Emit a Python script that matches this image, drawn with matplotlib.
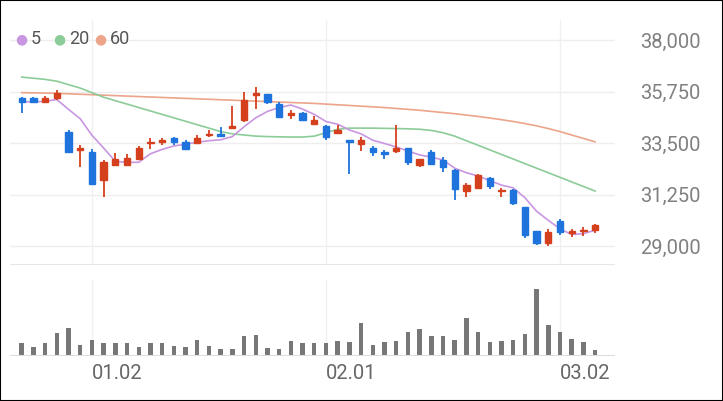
import matplotlib
matplotlib.use("Agg")
import matplotlib.pyplot as plt
from matplotlib.patches import Rectangle
import numpy as np

opens  = [35450,35450,35300,35450,34000,33200,33100,31900,32550,32550,32800,33500,33550,33700,33550,33500,33850,33900,34150,34500,
          35600,35650,35200,34750,34800,34350,34250,33950,33650,33450,33300,33100,33150,33300,32550,33100,32750,32300,31400,31550,
          31950,31400,31450,30700,29650,29150,30100,29550,29650,29700]
highs  = [35500,35500,35550,35800,34050,33400,33250,32750,33050,33000,33350,33700,33700,33750,33650,33850,34050,34200,35100,35750,
          35950,35650,35300,34950,34850,34700,34300,34300,33650,33750,33350,33200,34300,33300,32800,33200,32900,32350,31750,32150,
          32000,31550,31500,30700,29650,29750,30200,29750,29850,29950]
lows   = [34800,35250,35250,35400,33050,32450,31700,31150,32500,32500,32750,33250,33400,33400,33250,33500,33750,33750,34150,34400,
          35000,35200,34600,34550,34450,34300,33650,33900,32150,33150,32950,32800,33050,32550,32450,32550,32250,31000,31150,31550,
          31500,31150,30800,29350,29050,29000,29500,29400,29450,29550]
closes = [35300,35300,35450,35700,33100,33250,31700,32650,32800,32850,33300,33550,33600,33550,33250,33700,33900,33800,34250,35400,
          35650,35300,34650,34800,34500,34500,33750,34050,33550,33650,33100,33050,33300,32650,32800,32600,32450,31500,31650,32100,
          31600,31450,30900,29500,29150,29600,29600,29650,29700,29900]
prior_closes = [35300,35350,35300,35250]
ma20 = [36380,36330,36280,36200,36050,35900,35700,35500,35350,35200,35050,34900,34750,34600,34450,34300,34150,34000,33900,33850,
        33800,33780,33770,33760,33760,33800,33950,34100,34150,34150,34150,34140,34130,34120,34100,34050,33950,33800,33600,33400,
        33200,33000,32800,32600,32400,32200,32000,31800,31600,31400]
ma60 = [35700,35690,35680,35670,35650,35630,35610,35590,35570,35550,35530,35510,35490,35470,35450,35430,35410,35390,35370,35350,
        35330,35310,35290,35270,35250,35230,35200,35170,35140,35110,35080,35050,35010,34970,34930,34880,34830,34780,34720,34660,
        34590,34520,34440,34350,34250,34130,34000,33850,33700,33550]
volumes = [38,26,38,70,83,33,48,40,40,40,28,38,40,30,28,47,31,20,20,61,64,25,21,44,40,40,40,44,43,99,
           33,41,45,71,80,61,60,47,113,71,43,45,48,66,200,93,71,52,42,17]
tick_idx = [6, 26, 46]
tick_labels = ["01.02", "02.01", "03.02"]
yticks = [29000, 31250, 33500, 35750, 38000]

allc = np.array(prior_closes + closes, dtype=float)
ma5 = np.convolve(allc, np.ones(5) / 5, mode="valid")

RED, BLUE = "#d4401e", "#1e74dc"
x = np.arange(len(closes))
W, H = 723, 401
fig = plt.figure(figsize=(W / 100, H / 100), dpi=100)
fig.add_artist(Rectangle((0, 0), 1, 1, transform=fig.transFigure, fill=False, ec="black", lw=1.5))

left, right = 10 / W, 615 / W
ax = fig.add_axes([left, 1 - 265 / H, right - left, 245 / H])
axv = fig.add_axes([left, 1 - 356 / H, right - left, 76 / H], sharex=ax)

for a in (ax, axv):
    for s in a.spines.values():
        s.set_visible(False)
    for t in tick_idx:
        a.axvline(t, color="#f0f0f0", lw=1, zorder=0)

for yt in yticks:
    ax.axhline(yt, color="#eeeeee", lw=1, zorder=0)
ax.axhline(28170, color="#e6e6e6", lw=1.5, zorder=0)

ax.plot(x, ma60, color="#eca48a", lw=1.2, zorder=1)
ax.plot(x, ma20, color="#8ccc98", lw=1.2, zorder=1)
ax.plot(x, ma5, color="#c996e2", lw=1.2, zorder=1)

for i in x:
    o, h, l, c = opens[i], highs[i], lows[i], closes[i]
    col = RED if c >= o else BLUE
    ax.vlines(i, l, h, color=col, lw=1.3, zorder=2)
    bot, top = min(o, c), max(o, c)
    if top - bot < 60:
        bot, top = (o + c) / 2 - 40, (o + c) / 2 + 40
    ax.add_patch(Rectangle((i - 0.27, bot), 0.54, top - bot, color=col, zorder=3))

ax.set_xlim(-1.0, len(closes) + 0.7)
ax.set_ylim(28170, 38874)
ax.yaxis.tick_right()
ax.set_yticks(yticks)
ax.set_yticklabels([f"{v:,}" for v in yticks])
ax.tick_params(axis="y", length=0, pad=18, labelsize=14.5, labelcolor="#808080")
for lb in ax.get_yticklabels():
    lb.set_fontfamily("Roboto")
ax.tick_params(axis="x", bottom=False, labelbottom=False)

axv.bar(x, volumes, width=0.38, color="#777777", zorder=2)
axv.set_ylim(0, 227)
axv.set_yticks([])
axv.axhline(0, color="#dddddd", lw=1.5)
axv.set_xticks(tick_idx)
axv.set_xticklabels(tick_labels, fontfamily="Roboto", fontsize=14.5, color="#666666", ha="left")
axv.tick_params(axis="x", length=0, pad=6)

# legend
ly = 1 - 39 / H
items = [("5", "#c996e2"), ("20", "#8ccc98"), ("60", "#eca48a")]
xs = [15, 53, 94]
for (lab, col), px in zip(items, xs):
    fig.text(px / W, ly, "●", color=col, fontsize=10, va="center", family="DejaVu Sans")
    fig.text((px + 16) / W, ly, lab, color="#555555", fontsize=13, va="center", family="Roboto")

fig.savefig("out.png", dpi=100)
